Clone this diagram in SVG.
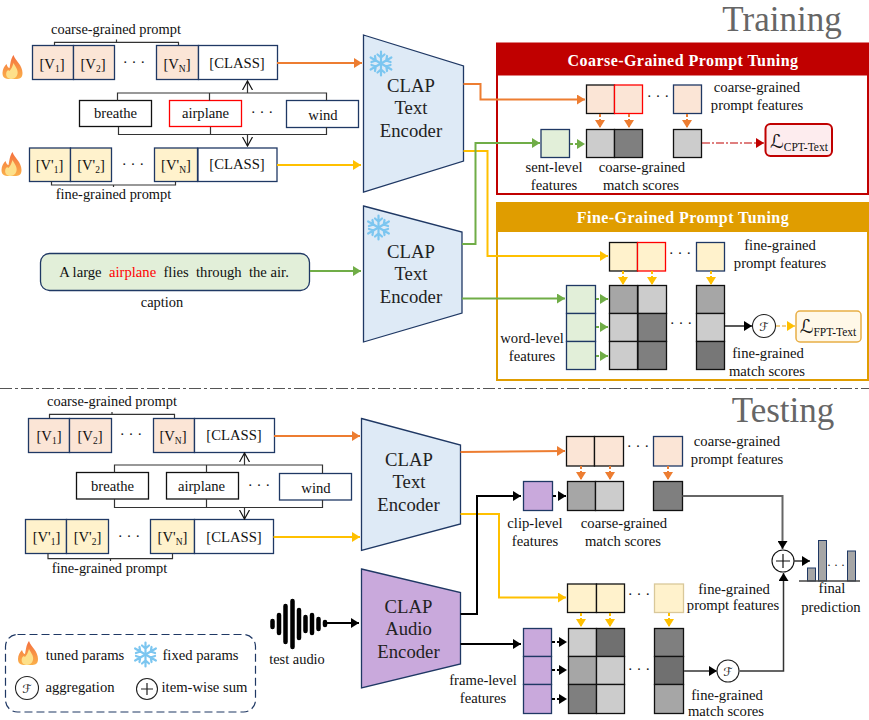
<svg xmlns="http://www.w3.org/2000/svg" xmlns:xlink="http://www.w3.org/1999/xlink" width="869" height="720" viewBox="0 0 869 720">
<style>
text{font-family:"Liberation Serif","Times New Roman",serif;font-size:14.4px;fill:#111;text-anchor:middle}
.s{font-size:14.67px}
.e{font-size:18.7px;fill:#222}
.t{font-size:35px;fill:#666}
.h{font-size:16px;font-weight:bold;fill:#fff;letter-spacing:.45px}
.sub{font-size:9.5px}
.d{font-size:15px;letter-spacing:0}
.m{font-family:"DejaVu Serif","DejaVu Sans",serif;font-size:12px;font-style:italic}
.lo{font-family:"DejaVu Serif","DejaVu Sans",serif;font-size:19px;font-style:italic}
.lt{font-family:"Liberation Serif",serif;font-size:11.5px;font-style:normal}
.b{stroke:#1f3864;stroke-width:1.3}
.k{stroke:#111;stroke-width:1.3}
.co{fill:#fbe5d6}.ye{fill:#fff2cc}.wh{fill:#fff}.gr{fill:#e2efd9}.pu{fill:#c9a9dc}
.c1{fill:#ccc}.c2{fill:#a6a6a6}.c3{fill:#7f7f7f}
.l{fill:none;stroke-width:2}
.or{stroke:#ed7d31}.yl{stroke:#ffc000}.gn{stroke:#70ad47}.bk{stroke:#000}.gy{stroke:#666}
.dsh{fill:none;stroke-width:2;stroke-dasharray:3 2}
.br{fill:none;stroke:#333;stroke-width:1.2}
</style>
<defs>
<marker id="mo" markerUnits="userSpaceOnUse" markerWidth="10" markerHeight="10" refX="8" refY="5" orient="auto"><path d="M0 0L8 5L0 10z" fill="#ed7d31"/></marker>
<marker id="my" markerUnits="userSpaceOnUse" markerWidth="10" markerHeight="10" refX="8" refY="5" orient="auto"><path d="M0 0L8 5L0 10z" fill="#ffc000"/></marker>
<marker id="mg" markerUnits="userSpaceOnUse" markerWidth="10" markerHeight="10" refX="8" refY="5" orient="auto"><path d="M0 0L8 5L0 10z" fill="#70ad47"/></marker>
<marker id="mk" markerUnits="userSpaceOnUse" markerWidth="10" markerHeight="10" refX="8" refY="5" orient="auto"><path d="M0 0L8 5L0 10z" fill="#000"/></marker>
<marker id="mr" markerUnits="userSpaceOnUse" markerWidth="10" markerHeight="10" refX="8" refY="5" orient="auto"><path d="M0 0L8 5L0 10z" fill="#c00000"/></marker>
<marker id="mw" markerUnits="userSpaceOnUse" markerWidth="10" markerHeight="12" refX="9" refY="6" orient="auto"><path d="M0 1L9 6L0 11" fill="none" stroke="#111" stroke-width="1.2"/></marker>
<linearGradient id="fl" x1="0" y1="0" x2="0" y2="1"><stop offset="0" stop-color="#f4703f"/><stop offset="1" stop-color="#fbb04a"/></linearGradient>
<g id="flame"><path d="M11 0C13 6 20 10 20 18C20 25 15 24 10 24C4 24 0 24 0 18C0 14 2 11 4 9C5 12 6 13 7 13C8 9 8 4 11 0z" fill="url(#fl)"/><path d="M11 8C13 12 16 15 15 19C14 23 11 24 8 24C4 23 3 20 4 17C5 15 6 15 7 16C9 14 10 11 11 8z" fill="#fde08a"/></g>
<g id="snow" fill="none" stroke="#7cc6f0" stroke-width="2.2" stroke-linecap="round"><g id="arm"><path d="M0 -12V12M-3.500 -9L0 -6L3.500 -9M-3.500 9L0 6L3.500 9"/></g><use href="#arm" transform="rotate(60)"/><use href="#arm" transform="rotate(120)"/></g>
</defs>

<text class="t" x="782" y="31">Training</text>
<text class="t" x="783" y="422">Testing</text>
<path d="M0 388.500H869" fill="none" stroke="#555" stroke-width="1" stroke-dasharray="12 3 3 3"/>

<g id="prompt-coarse-train">
<rect class="co b" x="32.500" y="45.500" width="41" height="34"/><rect class="co b" x="73.500" y="45.500" width="41" height="34"/><rect class="co b" x="156.500" y="45.500" width="42" height="34"/><rect class="wh b" x="198.500" y="45.500" width="79" height="34"/>
<text class="s" x="52" y="69">[V<tspan class="sub" dy="3">1</tspan><tspan dy="-3">]</tspan></text>
<text class="s" x="93" y="69">[V<tspan class="sub" dy="3">2</tspan><tspan dy="-3">]</tspan></text>
<text class="d" x="134" y="67">· · ·</text>
<text class="s" x="177" y="69">[V<tspan class="sub" dy="3">N</tspan><tspan dy="-3">]</tspan></text>
<text class="s" x="237" y="68">[CLASS]</text>
<text x="116" y="34">coarse-grained prompt</text>
<use href="#flame" x="2.500" y="55"/>
</g>
<g id="prompt-fine-train">
<rect class="ye b" x="29.500" y="148" width="41" height="33.500"/><rect class="ye b" x="70.500" y="148" width="41" height="33.500"/><rect class="ye b" x="154.500" y="148" width="43" height="33.500"/><rect class="wh b" x="198" y="148" width="79" height="33.500"/>
<text class="s" x="49.500" y="170">[V'<tspan class="sub" dy="3">1</tspan><tspan dy="-3">]</tspan></text>
<text class="s" x="91" y="170">[V'<tspan class="sub" dy="3">2</tspan><tspan dy="-3">]</tspan></text>
<text class="d" x="133" y="169">· · ·</text>
<text class="s" x="176" y="170">[V'<tspan class="sub" dy="3">N</tspan><tspan dy="-3">]</tspan></text>
<text class="s" x="237" y="169">[CLASS]</text>
<text x="113.500" y="199">fine-grained prompt</text>
<use href="#flame" x="1.500" y="152"/>
</g>
<g id="words-train">
<rect class="wh" stroke="#111" stroke-width="1.300" x="79.500" y="100.500" width="72" height="26"/><text class="s" x="115.500" y="118">breathe</text>
<rect class="wh" stroke="#f00" stroke-width="1.300" x="169.500" y="100.500" width="72" height="26"/><text class="s" x="205.500" y="118">airplane</text>
<text class="d" x="262" y="117">· · ·</text>
<rect class="wh b" x="286.500" y="100.500" width="72" height="27"/><text class="s" x="323" y="120">wind</text>
</g>
<g id="caption">
<rect class="gr b" x="40.500" y="253.500" width="269" height="37" rx="9"/>
<text class="s" x="174" y="277" xml:space="preserve">A large  <tspan fill="#f00">airplane</tspan>  flies  through  the air.</text>
<text x="162" y="307">caption</text>
</g>
<g id="encoder-text-1">
<path fill="#deeaf6" stroke="#1f3864" stroke-width="1.300" d="M363.500 35L463.500 66V161L363.500 192z"/>
<text class="e" x="411" y="92">CLAP</text><text class="e" x="411" y="114">Text</text><text class="e" x="411" y="137">Encoder</text>
<use href="#snow" x="381" y="63.500"/>
</g>
<g id="encoder-text-2">
<path fill="#deeaf6" stroke="#1f3864" stroke-width="1.300" d="M363.500 206L462 232V313L363.500 342z"/>
<text class="e" x="411" y="258">CLAP</text><text class="e" x="411" y="280">Text</text><text class="e" x="411" y="303">Encoder</text>
<use href="#snow" x="378.500" y="227.500"/>
</g>

<g id="coarse-panel">
<rect x="497" y="43.500" width="371" height="150.500" fill="#fff" stroke="#c00000" stroke-width="2"/>
<rect x="497" y="43.500" width="371" height="32" fill="#c00000"/>
<text class="h" x="683" y="66">Coarse-Grained Prompt Tuning</text>
<rect class="co k" x="586.500" y="85" width="28" height="28.500"/><rect class="co" stroke="#f00" stroke-width="1.300" x="614.500" y="85" width="28" height="28.500"/><rect class="co b" x="673.500" y="85" width="28" height="28.500"/>
<text class="d" x="658" y="101">· · ·</text>
<text class="s" x="757" y="92">coarse-grained</text><text class="s" x="757" y="110">prompt  features</text>
<rect class="gr b" x="541" y="129.500" width="28.500" height="28"/>
<rect class="c1 k" x="586.500" y="129.500" width="28" height="28"/><rect class="c3 k" x="614.500" y="129.500" width="28" height="28"/><rect class="c1 k" x="673.500" y="129.500" width="28" height="28"/>
<text class="s" x="554" y="172">sent-level</text><text class="s" x="554" y="190">features</text>
<text class="s" x="642" y="172">coarse-grained</text><text class="s" x="641" y="190">match scores</text>
<rect x="765.500" y="124" width="66.500" height="32" rx="5" fill="#fdecee" stroke="#c00000" stroke-width="2"/>
<text class="lo" x="799" y="148">ℒ<tspan class="lt" dy="3">CPT-Text</tspan></text>
</g>

<g id="fine-panel">
<rect x="497" y="203" width="371" height="177" fill="#fff" stroke="#e09d00" stroke-width="2"/>
<rect x="497" y="203" width="371" height="29" fill="#e09d00"/>
<text class="h" x="683" y="223">Fine-Grained Prompt Tuning</text>
<rect class="ye k" x="609.500" y="242.500" width="28" height="28.500"/><rect class="ye" stroke="#f00" stroke-width="1.300" x="637.500" y="242.500" width="28" height="28.500"/><rect class="ye b" x="696.500" y="242.500" width="28" height="28.500"/>
<text class="d" x="680" y="258">· · ·</text>
<text class="s" x="780" y="250">fine-grained</text><text class="s" x="780" y="268">prompt  features</text>
<rect class="gr b" x="566.500" y="285.500" width="29" height="28"/><rect class="gr b" x="566.500" y="313.500" width="29" height="28"/><rect class="gr b" x="566.500" y="341.500" width="29" height="28"/>
<rect class="c2 k" x="609.500" y="285.500" width="28" height="28"/><rect class="c1 k" x="638" y="285.500" width="28.500" height="28"/><rect class="c2 k" x="696.500" y="285.500" width="28" height="28"/>
<rect class="c1 k" x="609.500" y="313.500" width="28" height="28"/><rect class="c3 k" x="638" y="313.500" width="28.500" height="28"/><rect class="c1 k" x="696.500" y="313.500" width="28" height="28"/>
<rect class="c1 k" x="609.500" y="341.500" width="28" height="28"/><rect class="c3 k" x="638" y="341.500" width="28.500" height="28"/><rect fill="#777" class="k" x="696.500" y="341.500" width="28" height="28"/>
<text class="d" x="681" y="328">· · ·</text>
<text class="s" x="532" y="343">word-level</text><text class="s" x="532" y="361">features</text>
<text class="s" x="768" y="358">fine-grained</text><text class="s" x="767" y="376">match scores</text>
<g id="agg-train"><circle cx="764" cy="326" r="11.500" fill="#fff" stroke="#222" stroke-width="1.100"/><text class="m" x="764" y="331">ℱ</text></g>
<rect x="796" y="311" width="65" height="31" rx="4" fill="#fff8e8" stroke="#e8ae45" stroke-width="1.500"/>
<text class="lo" x="828" y="333">ℒ<tspan class="lt" dy="3">FPT-Text</tspan></text>
</g>

<g id="prompt-coarse-test">
<rect class="co b" x="28.500" y="418.500" width="41" height="34"/><rect class="co b" x="69.500" y="418.500" width="42" height="34"/><rect class="co b" x="153.500" y="418.500" width="41" height="34"/><rect class="wh b" x="194.500" y="418.500" width="80" height="34"/>
<text class="s" x="49" y="441">[V<tspan class="sub" dy="3">1</tspan><tspan dy="-3">]</tspan></text>
<text class="s" x="90" y="441">[V<tspan class="sub" dy="3">2</tspan><tspan dy="-3">]</tspan></text>
<text class="d" x="131" y="439">· · ·</text>
<text class="s" x="173" y="441">[V<tspan class="sub" dy="3">N</tspan><tspan dy="-3">]</tspan></text>
<text class="s" x="234" y="440">[CLASS]</text>
<text x="112" y="406">coarse-grained prompt</text>
</g>
<g id="prompt-fine-test">
<rect class="ye b" x="25.500" y="519.500" width="41" height="34"/><rect class="ye b" x="66.500" y="519.500" width="42" height="34"/><rect class="ye b" x="150.500" y="519.500" width="44" height="34"/><rect class="wh b" x="194.500" y="519.500" width="79" height="34"/>
<text class="s" x="46.500" y="542">[V'<tspan class="sub" dy="3">1</tspan><tspan dy="-3">]</tspan></text>
<text class="s" x="87.500" y="542">[V'<tspan class="sub" dy="3">2</tspan><tspan dy="-3">]</tspan></text>
<text class="d" x="129" y="541">· · ·</text>
<text class="s" x="172.500" y="542">[V'<tspan class="sub" dy="3">N</tspan><tspan dy="-3">]</tspan></text>
<text class="s" x="234" y="542">[CLASS]</text>
<text x="109.500" y="573">fine-grained prompt</text>
</g>
<g id="words-test">
<rect class="wh" stroke="#111" stroke-width="1.300" x="76.500" y="472.500" width="72" height="26.500"/><text class="s" x="112.500" y="491">breathe</text>
<rect class="wh" stroke="#111" stroke-width="1.300" x="166.500" y="472.500" width="72" height="26.500"/><text class="s" x="201.500" y="491">airplane</text>
<text class="d" x="259" y="490">· · ·</text>
<rect class="wh b" x="279.500" y="473.500" width="72" height="26.500"/><text class="s" x="316" y="493">wind</text>
</g>
<g id="encoder-text-3">
<path fill="#deeaf6" stroke="#1f3864" stroke-width="1.300" d="M361.500 418.500L460.500 445V524L361.500 550.500z"/>
<text class="e" x="409" y="466">CLAP</text><text class="e" x="409" y="488">Text</text><text class="e" x="408.500" y="511">Encoder</text>
</g>
<g id="encoder-audio">
<path fill="#c9a9dc" stroke="#1f3864" stroke-width="1.300" d="M361.500 569L460.500 592.500V664L361.500 688z"/>
<text class="e" x="408.500" y="613">CLAP</text><text class="e" x="408.500" y="635">Audio</text><text class="e" x="408.500" y="658">Encoder</text>
</g>
<g id="audio" stroke="#000" stroke-width="4.500" stroke-linecap="round">
<path d="M272.500 621V627M279 615V633M285.500 606V642M292.500 601V647M299 610V638M305.500 617V631M312 615V633M318.500 619V629M325 622V625"/>
</g>
<text x="297" y="664">test audio</text>

<g id="coarse-test">
<rect class="co k" x="566.500" y="436.500" width="28" height="29.500"/><rect class="co k" x="594.500" y="436.500" width="29" height="29.500"/><rect class="co b" x="653.500" y="436.500" width="29" height="29.500"/>
<text class="d" x="638" y="451">· · ·</text>
<text class="s" x="737" y="446">coarse-grained</text><text class="s" x="737" y="464">prompt  features</text>
<rect class="pu b" x="523.500" y="481.500" width="29" height="29"/>
<rect class="c2 k" x="567.500" y="481.500" width="28" height="29"/><rect class="c1 k" x="595.500" y="481.500" width="28" height="29"/><rect class="c3 k" x="653.500" y="481.500" width="29" height="29"/>
<text class="s" x="535" y="528">clip-level</text><text class="s" x="535" y="546">features</text>
<text class="s" x="624" y="528">coarse-grained</text><text class="s" x="623" y="546">match scores</text>
</g>
<g id="fine-test">
<rect class="ye k" x="567.500" y="584" width="29" height="28.500"/><rect class="ye k" x="596.500" y="584" width="28" height="28.500"/><rect class="ye" stroke="#d9c89a" stroke-width="1.300" x="654.500" y="584" width="29" height="28.500"/>
<text class="d" x="639" y="599">· · ·</text>
<text class="s" x="734" y="594">fine-grained</text><text class="s" x="733" y="610">prompt features</text>
<rect class="pu b" x="523.500" y="628.500" width="28" height="28"/><rect class="pu b" x="523.500" y="656.500" width="28" height="28"/><rect class="pu b" x="523.500" y="684.500" width="28" height="29"/>
<rect class="c1 k" x="568.500" y="628.500" width="28" height="28"/><rect fill="#707070" class="k" x="596.500" y="628.500" width="28" height="28"/><rect class="c3 k" x="654.500" y="628.500" width="29" height="28"/>
<rect class="c2 k" x="568.500" y="656.500" width="28" height="28"/><rect class="c1 k" x="596.500" y="656.500" width="28" height="28"/><rect fill="#707070" class="k" x="654.500" y="656.500" width="29" height="28"/>
<rect class="c3 k" x="568.500" y="684.500" width="28" height="29"/><rect class="c1 k" x="596.500" y="684.500" width="28" height="29"/><rect class="c2 k" x="654.500" y="684.500" width="29" height="29"/>
<text class="d" x="639" y="674">· · ·</text>
<text class="s" x="483" y="685">frame-level</text><text class="s" x="483" y="703">features</text>
<text class="s" x="727" y="700">fine-grained</text><text class="s" x="726" y="716">match scores</text>
<g id="agg-test"><circle cx="728" cy="671" r="11" fill="#fff" stroke="#222" stroke-width="1.100"/><text class="m" x="728" y="676">ℱ</text></g>
</g>
<g id="sum-test"><circle cx="783" cy="561" r="11" fill="#fff" stroke="#111" stroke-width="1.100"/><path d="M776 561H790M783 554V568" stroke="#111" stroke-width="1.200"/></g>
<g id="prediction">
<rect x="807.500" y="568" width="8" height="13" fill="#a6a6a6" stroke="#1f3864"/><rect x="818.500" y="540.500" width="8" height="40.500" fill="#a6a6a6" stroke="#1f3864"/><rect x="847.500" y="551" width="8" height="30" fill="#a6a6a6" stroke="#1f3864"/>
<path d="M799 581H860" stroke="#444" stroke-width="1.300"/>
<text style="font-size:12px" x="836" y="569">· · ·</text>
<text class="s" x="832" y="593">final</text><text class="s" x="831" y="612">prediction</text>
</g>

<g id="legend">
<rect x="5.500" y="634.500" width="250" height="77.500" rx="12" fill="none" stroke="#1f3864" stroke-width="1.200" stroke-dasharray="8 4"/>
<use href="#flame" x="18" y="641"/>
<text class="s" x="85" y="660">tuned params</text>
<use href="#snow" x="145.500" y="654.500"/>
<text class="s" x="200.500" y="660">fixed params</text>
<circle cx="27" cy="688" r="11.500" fill="#fff" stroke="#222" stroke-width="1.100"/><text class="m" x="27" y="693">ℱ</text>
<text class="s" x="80" y="692">aggregation</text>
<circle cx="147" cy="689" r="10.500" fill="#fff" stroke="#222" stroke-width="1.100"/><path d="M141 689H153M147 683V695" stroke="#222" stroke-width="1.200"/>
<text class="s" x="204.500" y="692">item-wise sum</text>
</g>

<g id="connectors">
<path class="l or" d="M277 63H362" marker-end="url(#mo)"/>
<path class="l yl" d="M277 165H361" marker-end="url(#my)"/>
<path class="l gn" d="M310 271H361" marker-end="url(#mg)"/>
<path class="l or" d="M463.500 84H480.500V99.500H585" marker-end="url(#mo)"/>
<path class="l yl" d="M463.500 151H487.500V256H608" marker-end="url(#my)"/>
<path class="l gn" d="M462 244H475.500V143H540" marker-end="url(#mg)"/>
<path class="l gn" d="M462 298.500H565" marker-end="url(#mg)"/>
<path class="dsh gn" d="M570 144H585" marker-end="url(#mg)"/>
<path class="dsh or" d="M600 114V128" marker-end="url(#mo)"/>
<path class="dsh or" d="M629 114V128" marker-end="url(#mo)"/>
<path class="dsh or" d="M687 114V128" marker-end="url(#mo)"/>
<path fill="none" stroke="#c00000" stroke-width="1.200" stroke-dasharray="8 2 2 2" d="M702 143H764" marker-end="url(#mr)"/>
<path class="dsh yl" d="M623 271V285" marker-end="url(#my)"/>
<path class="dsh yl" d="M652 271V285" marker-end="url(#my)"/>
<path class="dsh yl" d="M711 271V285" marker-end="url(#my)"/>
<path class="dsh gn" d="M596 299H608" marker-end="url(#mg)"/>
<path class="dsh gn" d="M596 327H608" marker-end="url(#mg)"/>
<path class="dsh gn" d="M596 356H608" marker-end="url(#mg)"/>
<path fill="none" stroke="#222" stroke-width="1.500" d="M725 326H752" marker-end="url(#mk)"/>
<path fill="none" stroke="#f0c060" stroke-width="1.500" stroke-dasharray="4 2" d="M776 326H795" marker-end="url(#my)"/>
<path class="l or" d="M274 436H360" marker-end="url(#mo)"/>
<path class="l yl" d="M273.500 537H360" marker-end="url(#my)"/>
<path class="l or" d="M460.500 452L565 451" marker-end="url(#mo)"/>
<path class="l yl" d="M460.500 514H499V597.500H566" marker-end="url(#my)"/>
<path class="l bk" stroke-width="2.500" d="M460.500 614H477V496H521" marker-end="url(#mk)"/>
<path class="l bk" d="M460.500 644H521" marker-end="url(#mk)"/>
<path class="l bk" d="M326 623H359" marker-end="url(#mk)"/>
<path class="dsh bk" d="M553 496H566" marker-end="url(#mk)"/>
<path class="dsh or" d="M581 466V480" marker-end="url(#mo)"/>
<path class="dsh or" d="M610 466V480" marker-end="url(#mo)"/>
<path class="dsh or" d="M668 466V480" marker-end="url(#mo)"/>
<path class="dsh yl" d="M581 613V627" marker-end="url(#my)"/>
<path class="dsh yl" d="M610 613V627" marker-end="url(#my)"/>
<path class="dsh yl" d="M669 613V627" marker-end="url(#my)"/>
<path class="dsh bk" d="M552 642H567" marker-end="url(#mk)"/>
<path class="dsh bk" d="M552 670H567" marker-end="url(#mk)"/>
<path class="dsh bk" d="M552 699H567" marker-end="url(#mk)"/>
<path class="l gy" d="M682.500 496H782.500V549" marker-end="url(#mk)"/>
<path class="l gy" d="M684 671H717" marker-end="url(#mk)"/>
<path fill="none" stroke="#333" stroke-width="1.500" d="M739.500 671H783.500V573" marker-end="url(#mk)"/>
<path fill="none" stroke="#333" stroke-width="1.500" d="M794 561H810" marker-end="url(#mk)"/>
<path class="br" d="M54.500 45V42.300H178.500V45M116.500 42.300V39.500"/>
<path class="br" d="M117.500 100.500V93H326.500V100.500M209.500 93V100.500"/>
<path class="br" d="M247.500 93V81" marker-end="url(#mw)"/>
<path class="br" d="M118.500 127V134.500H326.500V127M210.500 127V134.500"/>
<path class="br" d="M247.500 134.500V146" marker-end="url(#mw)"/>
<path class="br" d="M51.500 181.500V185H175.500V181.500M113.500 185V187"/>
<path class="br" d="M49.500 418V414.300H174.500V418M112 414.300V412"/>
<path class="br" d="M114.500 472.500V465H322.500V473.500M206.500 465V472.500"/>
<path class="br" d="M244.500 465V453" marker-end="url(#mw)"/>
<path class="br" d="M114.500 499V507.500H322.500V500M206.500 499V507.500"/>
<path class="br" d="M244.500 507.500V519" marker-end="url(#mw)"/>
<path class="br" d="M48 553.500V558.700H172.500V553.500M110.500 558.700V561"/>
</g>
</svg>
